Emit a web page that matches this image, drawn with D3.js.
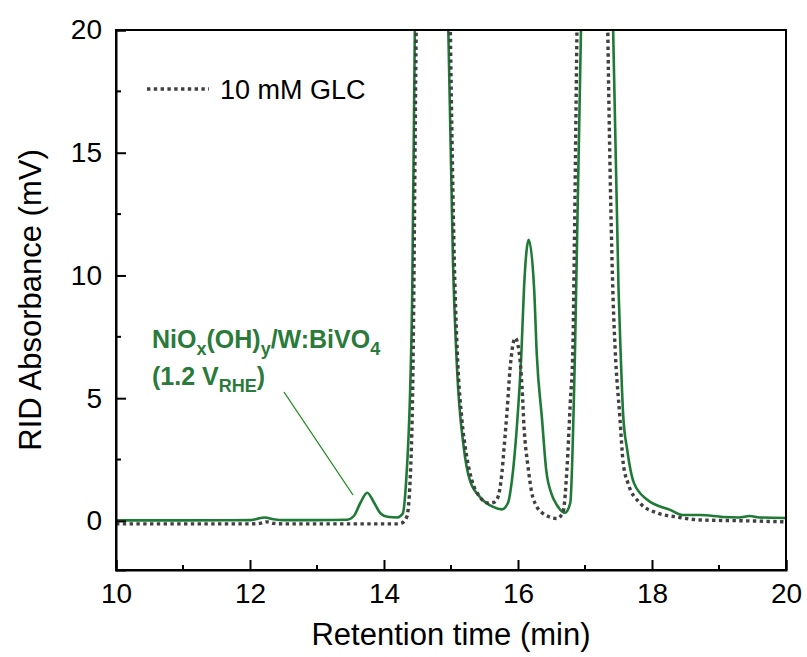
<!DOCTYPE html>
<html><head><meta charset="utf-8">
<script src="https://cdn.jsdelivr.net/npm/d3@7"></script>
<style>body{margin:0;background:#fff}text{font-family:Arial,"Liberation Sans",sans-serif}</style>
</head><body><svg id="c" width="807" height="657"></svg>
<script>
const xTicks = [10, 12, 14, 16, 18, 20];
const xMinorTicks = [11, 13, 15, 17, 19];
const yTicks = [0, 5, 10, 15, 20];
const yMinorTicks = [2.5, 7.5, 12.5, 17.5];

const sampleTime = [10.0,11.0,12.0,12.1,12.22,12.35,12.5,13.0,13.45,13.55,13.65,13.75,13.85,13.95,14.05,14.2,14.28,14.33,14.39,14.42,14.46,14.6,14.72,14.85,14.96,15.03,15.09,15.19,15.28,15.43,15.63,15.76,15.85,15.91,15.99,16.05,16.09,16.16,16.24,16.28,16.36,16.42,16.5,16.58,16.7,16.78,16.85,16.94,17.05,17.18,17.3,17.42,17.5,17.53,17.57,17.63,17.73,17.93,18.27,18.46,18.72,19.06,19.3,19.46,19.6,20.0];
const sampleSignal = [0.02,0.02,0.03,0.08,0.14,0.07,0.03,0.03,0.05,0.2,0.75,1.15,0.75,0.3,0.17,0.14,0.3,1.6,5.3,9,20,45,50,45,20,10.5,6.2,3.0,1.67,0.98,0.57,0.47,0.73,1.67,4.1,6.8,9.5,11.45,9.5,6.8,4.1,2.1,1.1,0.65,0.33,0.73,6.8,20,45,50,45,20,9.5,7.0,4.3,2.9,1.55,0.86,0.45,0.24,0.24,0.16,0.14,0.2,0.14,0.12];

const glcTime = [10.0,12.0,12.15,12.25,12.35,12.5,14.2,14.27,14.34,14.39,14.43,14.48,14.62,14.75,14.88,14.99,15.05,15.1,15.16,15.23,15.31,15.43,15.55,15.63,15.69,15.76,15.79,15.84,15.88,15.96,16.03,16.06,16.09,16.15,16.22,16.36,16.58,16.67,16.73,16.78,16.82,16.84,16.88,17.0,17.12,17.24,17.34,17.42,17.45,17.52,17.57,17.64,17.82,18.07,18.37,18.72,19.46,20.0];
const glcSignal = [-0.12,-0.12,-0.1,-0.04,-0.1,-0.12,-0.12,-0.08,0.16,1.67,5.7,20,45,50,45,20,10.5,6.5,4.2,2.7,1.67,0.98,0.73,0.75,0.9,1.96,2.9,4.6,6.15,7.45,6.56,5.46,3.83,2.2,0.98,0.33,0.1,0.33,2.08,4.8,7.1,10.9,20,45,50,45,20,9,7.0,4.24,2.36,1.55,0.73,0.33,0.16,0.04,0.0,-0.04];

const seriesNames = ["10 mM GLC", "NiOx(OH)y/W:BiVO4 (1.2 VRHE)"];

const W = 807, H = 657;
const m = {l:116, r:21, t:30, b:87};
const svg = d3.select("#c");
const x = d3.scaleLinear().domain([10,20]).range([m.l, W-m.r]);
const y = d3.scaleLinear().domain([-2,20]).range([H-m.b, m.t]);

svg.append("defs").append("clipPath").attr("id","clip")
  .append("rect").attr("x",m.l).attr("y",m.t).attr("width",W-m.l-m.r).attr("height",H-m.t-m.b);

const line = d3.line().x(d=>x(d[0])).y(d=>y(d[1])).curve(d3.curveMonotoneX);
const g = svg.append("g").attr("clip-path","url(#clip)");
const sampleData = sampleTime.map((t,i)=>[t,sampleSignal[i]]);
const glcData = glcTime.map((t,i)=>[t,glcSignal[i]]);

g.append("path").datum(sampleData).attr("d",line).attr("fill","none")
  .attr("stroke","#1f7a36").attr("stroke-width",2.6);
g.append("path").datum(glcData).attr("d",line).attr("fill","none")
  .attr("stroke","#404040").attr("stroke-width",3.4).attr("stroke-dasharray","3.4,3.4");

// frame
svg.append("rect").attr("x",m.l).attr("y",m.t).attr("width",W-m.l-m.r).attr("height",H-m.t-m.b)
  .attr("fill","none").attr("stroke","#000").attr("stroke-width",2);

// axes
const fs = 28;
const xAxis = svg.append("g").attr("transform",`translate(0,${H-m.b})`)
  .call(d3.axisBottom(x).tickValues(xTicks).tickSize(-10).tickPadding(13).tickFormat(d3.format("d")));
xAxis.append("g").selectAll("line").data(xMinorTicks).join("line")
  .attr("x1",d=>x(d)).attr("x2",d=>x(d)).attr("y1",0).attr("y2",-5).attr("stroke","#000").attr("stroke-width",2);
const yAxis = svg.append("g").attr("transform",`translate(${m.l},0)`)
  .call(d3.axisLeft(y).tickValues(yTicks).tickSize(-10).tickPadding(14).tickFormat(d3.format("d")));
yAxis.append("g").selectAll("line").data(yMinorTicks).join("line")
  .attr("y1",d=>y(d)).attr("y2",d=>y(d)).attr("x1",0).attr("x2",5).attr("stroke","#000").attr("stroke-width",2);
[xAxis,yAxis].forEach(a=>{
  a.select(".domain").attr("stroke","#000").attr("stroke-width",2);
  a.selectAll(".tick line").attr("stroke","#000").attr("stroke-width",2);
  a.selectAll(".tick text").attr("font-size",fs).attr("fill","#000").style("font-family","Arial, 'Liberation Sans', sans-serif");
});

svg.append("text").attr("x",(m.l+W-m.r)/2).attr("y",645).attr("text-anchor","middle")
  .attr("font-size",31).attr("fill","#000").text("Retention time (min)");
svg.append("text").attr("transform",`translate(41,${(m.t+H-m.b)/2}) rotate(-90)`).attr("text-anchor","middle")
  .attr("font-size",31).attr("fill","#000").text("RID Absorbance (mV)");

// legend
svg.append("line").attr("x1",147).attr("x2",209).attr("y1",89).attr("y2",89)
  .attr("stroke","#404040").attr("stroke-width",3.4).attr("stroke-dasharray","3.4,3.4");
svg.append("text").attr("x",220).attr("y",99).attr("font-size",27).attr("fill","#000").text(seriesNames[0]);

// annotation
const tc = "#2a7a3a";
const a1 = svg.append("text").attr("x",152).attr("y",348).attr("font-size",25).attr("font-weight","bold").attr("fill",tc);
a1.append("tspan").text("NiO");
a1.append("tspan").attr("dy",7).attr("font-size",18).text("x");
a1.append("tspan").attr("dy",-7).text("(OH)");
a1.append("tspan").attr("dy",7).attr("font-size",18).text("y");
a1.append("tspan").attr("dy",-7).text("/W:BiVO");
a1.append("tspan").attr("dy",7).attr("font-size",18).text("4");
const a2 = svg.append("text").attr("x",152).attr("y",385).attr("font-size",25).attr("font-weight","bold").attr("fill",tc);
a2.append("tspan").text("(1.2 V");
a2.append("tspan").attr("dy",7).attr("font-size",18).text("RHE");
a2.append("tspan").attr("dy",-7).text(")");
svg.append("line").attr("x1",284).attr("y1",392).attr("x2",353).attr("y2",495)
  .attr("stroke","#1a8a1a").attr("stroke-width",1.3);
</script></body></html>
